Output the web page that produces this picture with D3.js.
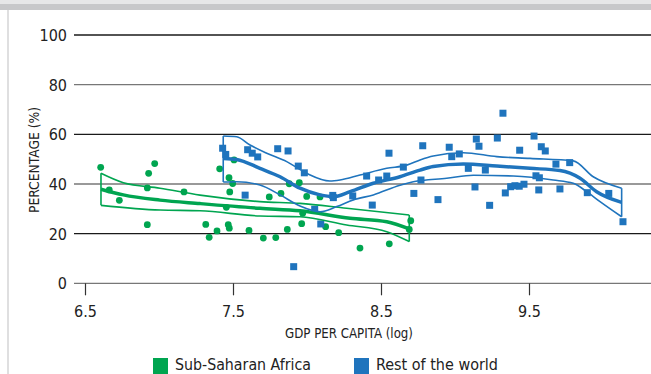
<!DOCTYPE html>
<html><head><meta charset="utf-8">
<script src="https://cdn.jsdelivr.net/npm/d3@7"></script>
<style>
body{margin:0;background:#fff;}
text{font-family:"DejaVu Sans Condensed","Liberation Sans Narrow",sans-serif;fill:#222;}
</style></head><body>
<svg id="c" width="651" height="374"></svg>
<script>
const yTicks = [0, 20, 40, 60, 80, 100];
const xTicks = [6.5, 7.5, 8.5, 9.5];
const seriesNames = ["Sub-Saharan Africa", "Rest of the world"];

// Sub-Saharan Africa points [log GDP, %]
const ssaPoints = [
[6.606,46.7],[6.664,37.6],[6.732,33.4],[6.930,44.3],[6.971,48.2],[6.921,38.4],[6.921,23.6],
[7.169,36.8],[7.316,23.7],[7.339,18.5],[7.392,21.1],[7.410,46.1],[7.455,30.6],[7.468,23.6],
[7.475,22.2],[7.478,36.8],[7.498,40.2],[7.473,42.5],[7.507,49.7],[7.608,21.3],[7.705,18.2],
[7.789,18.4],[7.745,34.8],[7.824,36.2],[7.880,40.1],[7.948,40.5],[7.867,21.7],[7.964,24.0],
[7.971,28.2],[7.998,35.0],[8.088,34.8],[8.126,22.8],[8.214,20.4],[8.358,14.2],[8.556,15.9],
[8.701,25.2],[8.691,21.7]];

// Rest of the world points
const rowPoints = [
[7.430,54.4],[7.451,51.9],[7.599,53.8],[7.630,52.4],[7.667,50.9],[7.802,54.2],[7.872,53.3],
[7.941,47.2],[7.982,44.5],[7.582,35.5],[8.052,29.8],[8.093,23.9],[7.910,6.7],[8.174,35.4],
[8.178,34.5],[8.309,35.2],[8.441,31.5],[8.403,43.2],[8.484,41.6],[8.539,43.2],[8.554,52.4],
[8.651,46.8],[8.722,36.2],[8.770,41.6],[8.782,55.4],[8.885,33.7],[8.961,54.8],[8.978,51.0],
[9.029,52.1],[9.090,46.3],[9.144,58.1],[9.162,55.2],[9.135,38.8],[9.205,45.6],[9.234,31.4],
[9.286,58.5],[9.324,68.5],[9.340,36.4],[9.376,38.9],[9.405,39.3],[9.434,39.1],[9.466,39.9],
[9.437,53.6],[9.534,59.3],[9.583,55.0],[9.610,53.3],[9.547,43.3],[9.570,42.5],[9.566,37.6],
[9.682,48.0],[9.709,38.0],[9.775,48.6],[9.894,36.5],[10.039,36.2],[10.135,24.8]];

// Fitted curves and confidence bands
const ssaFit = [[6.608,37.9],[6.759,35.6],[7.007,33.5],[7.277,32.1],[7.682,30.2],[7.953,29.2],[8.291,26.2],[8.539,24.8],[8.691,21.9]];
const ssaUpper = [[6.608,44.3],[6.759,40.5],[7.007,38.3],[7.277,35.5],[7.682,32.9],[7.953,32.2],[8.268,30.2],[8.691,27.5]];
const ssaLower = [[6.608,31.4],[7.007,29.5],[7.277,29.2],[7.682,27.1],[7.953,26.8],[8.268,23.5],[8.539,20.8],[8.691,16.8]];

const rowFit = [[7.434,50.3],[7.525,49.9],[7.682,46.3],[7.818,42.9],[7.953,38.3],[8.088,35.6],[8.178,34.9],[8.291,36.9],[8.448,40.3],[8.628,42.9],[8.764,45.6],[8.853,47.0],[9.056,48.0],[9.282,47.2],[9.507,46.3],[9.709,45.4],[9.845,42.3],[9.957,36.9],[10.126,32.6]];
const rowUpper = [[7.434,59.3],[7.525,59.0],[7.615,55.7],[7.728,52.4],[7.863,49.0],[7.998,44.3],[8.155,41.2],[8.223,41.6],[8.358,43.6],[8.539,46.3],[8.674,47.6],[8.764,49.7],[8.853,51.3],[9.056,52.6],[9.282,51.0],[9.507,50.3],[9.799,49.3],[9.934,42.9],[10.126,38.3]];
const rowLower = [[7.434,40.8],[7.525,40.9],[7.682,39.6],[7.818,35.6],[7.953,31.1],[8.088,28.8],[8.201,30.9],[8.313,33.6],[8.448,35.6],[8.628,39.5],[8.718,40.9],[8.944,42.3],[9.124,43.5],[9.394,43.2],[9.664,41.6],[9.799,40.3],[9.890,36.9],[9.980,32.9],[10.126,26.8]];

const GREEN = "#00a550", BLUE = "#1f74bd";
const svg = d3.select("#c");

// header bands
svg.append("rect").attr("x",0).attr("y",0).attr("width",651).attr("height",4).attr("fill","#e6e7e8");
svg.append("rect").attr("x",0).attr("y",4).attr("width",651).attr("height",6).attr("fill","#c7c8ca");
svg.append("line").attr("x1",8).attr("x2",8).attr("y1",10).attr("y2",374).attr("stroke","#d4d5d6").attr("stroke-width",1.5);

const x = d3.scaleLinear().domain([6.5, 9.5]).range([85, 529]);
const y = d3.scaleLinear().domain([0, 100]).range([283.3, 35]);

// grid lines
svg.append("g").selectAll("line").data(yTicks).join("line")
  .attr("x1",74).attr("x2",651).attr("y1",d=>y(d)).attr("y2",d=>y(d))
  .attr("stroke",(d,i)=> (d/20)%2===1 ? "#1a1a1a" : "#777").attr("stroke-width",1.3);

// y labels
svg.append("g").selectAll("text").data(yTicks).join("text")
  .attr("x",67).attr("y",d=>y(d)+6).attr("text-anchor","end").attr("font-size",16).text(d=>d);

// x axis ticks
const xa = svg.append("g").attr("transform",`translate(0,${y(0)})`)
  .call(d3.axisBottom(x).tickValues(xTicks).tickSize(12).tickSizeOuter(0).tickFormat(d3.format(".1f")));
xa.select(".domain").remove();
xa.selectAll(".tick line").attr("stroke","#333").attr("stroke-width",1.2);
xa.selectAll(".tick text").attr("font-size",16).attr("dy",0).attr("y",34).attr("fill","#222")
  .attr("font-family",'"DejaVu Sans Condensed",sans-serif');

// axis titles
svg.append("text").attr("x",285).attr("y",338).attr("font-size",14.5)
  .attr("textLength",128).attr("lengthAdjust","spacingAndGlyphs").text("GDP PER CAPITA (log)");
svg.append("text").attr("transform","translate(39,213) rotate(-90)").attr("font-size",14.5)
  .attr("textLength",106).attr("lengthAdjust","spacingAndGlyphs").text("PERCENTAGE (%)");

const line = d3.line().x(d=>x(d[0])).y(d=>y(d[1])).curve(d3.curveMonotoneX);

function band(upper, lower, fit, color){
  const g = svg.append("g");
  g.append("path").attr("d", line(upper)).attr("fill","none").attr("stroke",color).attr("stroke-width",1.6);
  g.append("path").attr("d", line(lower)).attr("fill","none").attr("stroke",color).attr("stroke-width",1.6);
  const f = upper[0], l = lower[0], fu = upper[upper.length-1], lu = lower[lower.length-1];
  g.append("line").attr("x1",x(f[0])).attr("x2",x(l[0])).attr("y1",y(f[1])).attr("y2",y(l[1])).attr("stroke",color).attr("stroke-width",1.6);
  g.append("line").attr("x1",x(fu[0])).attr("x2",x(lu[0])).attr("y1",y(fu[1])).attr("y2",y(lu[1])).attr("stroke",color).attr("stroke-width",1.6);
  g.append("path").attr("d", line(fit)).attr("fill","none").attr("stroke",color).attr("stroke-width",3.5);
}

// points
svg.append("g").selectAll("circle").data(ssaPoints).join("circle")
  .attr("cx",d=>x(d[0])).attr("cy",d=>y(d[1])).attr("r",3.4).attr("fill",GREEN);
svg.append("g").selectAll("rect").data(rowPoints).join("rect")
  .attr("x",d=>x(d[0])-3.5).attr("y",d=>y(d[1])-3.5).attr("width",7).attr("height",7).attr("fill",BLUE);

band(ssaUpper, ssaLower, ssaFit, GREEN);
band(rowUpper, rowLower, rowFit, BLUE);

// legend
const leg = [{name:seriesNames[0], c:GREEN, x:153, w:136},{name:seriesNames[1], c:BLUE, x:354, w:122}];
const lg = svg.append("g").selectAll("g").data(leg).join("g");
lg.append("rect").attr("x",d=>d.x).attr("y",358).attr("width",15).attr("height",16).attr("fill",d=>d.c);
lg.append("text").attr("x",d=>d.x+22).attr("y",370).attr("font-size",16)
  .attr("textLength",d=>d.w).attr("lengthAdjust","spacingAndGlyphs").text(d=>d.name);
</script>
</body></html>
